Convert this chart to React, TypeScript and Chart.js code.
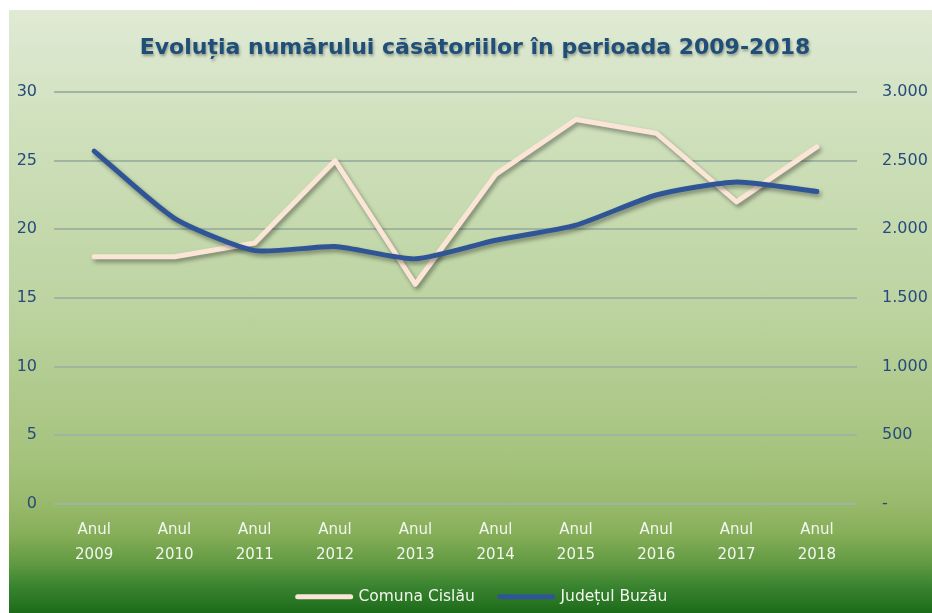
import React, { useEffect, useRef } from 'react';
import { Chart, registerables } from 'chart.js';

Chart.register(...registerables);

const TITLE = 'Evoluția numărului căsătoriilor în perioada 2009-2018';
const CATEGORIES = [
  ['Anul', '2009'], ['Anul', '2010'], ['Anul', '2011'], ['Anul', '2012'], ['Anul', '2013'],
  ['Anul', '2014'], ['Anul', '2015'], ['Anul', '2016'], ['Anul', '2017'], ['Anul', '2018'],
];
const CISLAU_LABEL = 'Comuna Cislău';
const BUZAU_LABEL = 'Județul Buzău';
const CISLAU = [18, 18, 19, 25, 16, 24, 28, 27, 22, 26];
const BUZAU = [2570, 2080, 1845, 1875, 1785, 1920, 2030, 2250, 2345, 2275];
const LEFT_MAX = 30;
const LEFT_STEP = 5;
const RIGHT_MAX = 3000;
const RIGHT_STEP = 500;

const FONT = "'DejaVu Sans', sans-serif";
const AXIS_COLOR = '#264b7c';
const LIGHT_TEXT = '#f3f6ef';
const GRID_COLOR = '#9fb5a2';
const PINK = '#fbe5d6';
const BLUE = '#2f5597';

const fmtThousands = (v: number) => {
  if (v === 0) return '-';
  const s = String(Math.round(v));
  return s.replace(/\B(?=(\d{3})+(?!\d))/g, '.');
};

const shadowPlugin = {
  id: 'lineShadow',
  beforeDatasetDraw(chart: any) {
    const ctx = chart.ctx;
    ctx.save();
    ctx.shadowColor = 'rgba(0,0,0,0.38)';
    ctx.shadowBlur = 4;
    ctx.shadowOffsetX = 2;
    ctx.shadowOffsetY = 3;
  },
  afterDatasetDraw(chart: any) {
    chart.ctx.restore();
  },
};

// shift the legend block slightly right, as in the original
const legendShiftPlugin = {
  id: 'legendShift',
  afterLayout(chart: any) {
    const lg = chart.legend;
    if (lg) {
      lg.left += 12;
      lg.right += 12;
    }
  },
};

const titlePlugin = {
  id: 'shadowTitle',
  afterDraw(chart: any) {
    const ctx = chart.ctx;
    ctx.save();
    ctx.font = `bold 22px ${FONT}`;
    ctx.fillStyle = '#1f4e79';
    ctx.textAlign = 'center';
    ctx.textBaseline = 'alphabetic';
    ctx.shadowColor = 'rgba(0,0,0,0.35)';
    ctx.shadowBlur = 3;
    ctx.shadowOffsetX = 1;
    ctx.shadowOffsetY = 2;
    ctx.fillText(TITLE, 466, 44);
    ctx.restore();
  },
};

export default function App() {
  const ref = useRef<HTMLCanvasElement>(null);

  useEffect(() => {
    const chart = new Chart(ref.current as HTMLCanvasElement, {
      type: 'line',
      data: {
        labels: CATEGORIES as any,
        datasets: [
          {
            label: CISLAU_LABEL,
            data: CISLAU,
            yAxisID: 'y',
            borderColor: PINK,
            backgroundColor: PINK,
            borderWidth: 5,
            pointRadius: 0,
            pointBorderWidth: 5,
            borderCapStyle: 'round',
            borderJoinStyle: 'round',
            tension: 0,
            order: 1,
          },
          {
            label: BUZAU_LABEL,
            data: BUZAU,
            yAxisID: 'y1',
            borderColor: BLUE,
            backgroundColor: BLUE,
            borderWidth: 5,
            pointRadius: 0,
            pointBorderWidth: 5,
            borderCapStyle: 'round',
            borderJoinStyle: 'round',
            tension: 0.2,
            order: 0,
          },
        ],
      },
      options: {
        responsive: false,
        animation: false,
        events: [],
        layout: { padding: { left: 0, right: 0, top: 82, bottom: 0 } },
        scales: {
          x: {
            offset: true,
            grid: { display: false, drawTicks: false },
            border: { display: false },
            ticks: {
              color: LIGHT_TEXT,
              font: { family: FONT, size: 15, lineHeight: 1.667 },
              padding: 14,
              maxRotation: 0,
              autoSkip: false,
            },
            afterFit: (s: any) => { s.height = 60; },
          },
          y: {
            position: 'left',
            min: 0,
            max: LEFT_MAX,
            ticks: {
              stepSize: LEFT_STEP,
              color: AXIS_COLOR,
              font: { family: FONT, size: 16 },
              padding: 17,
            },
            grid: { color: GRID_COLOR, lineWidth: 2, drawTicks: false },
            border: { display: false },
            afterFit: (s: any) => { s.width = 45; },
          },
          y1: {
            position: 'right',
            min: 0,
            max: RIGHT_MAX,
            ticks: {
              stepSize: RIGHT_STEP,
              color: AXIS_COLOR,
              font: { family: FONT, size: 16 },
              padding: 25,
              callback: (v: any) => fmtThousands(Number(v)),
            },
            grid: { display: false, drawTicks: false },
            border: { display: false },
            afterFit: (s: any) => { s.width = 75; },
          },
        },
        plugins: {
          title: { display: false },
          tooltip: { enabled: false },
          legend: {
            display: true,
            position: 'bottom',
            maxHeight: 49,
            labels: {
              usePointStyle: true,
              pointStyle: 'line',
              pointStyleWidth: 53,
              color: LIGHT_TEXT,
              font: { family: FONT, size: 15.5 },
              padding: 25,
              sort: (a: any, b: any) => a.datasetIndex - b.datasetIndex,
              generateLabels: (c: any) =>
                (Chart.defaults.plugins.legend.labels as any)
                  .generateLabels(c)
                  .map((l: any) => ({ ...l, lineWidth: 5, lineCap: 'round' })),
            },
          },
        },
      } as any,
      plugins: [shadowPlugin, legendShiftPlugin, titlePlugin],
    });
    return () => chart.destroy();
  }, []);

  return (
    <div
      style={{
        position: 'absolute',
        left: 9,
        top: 10,
        width: 923,
        height: 603,
        background:
          'linear-gradient(to bottom, #e0ead5 0%, #cfe0bc 20%, #bcd3a0 50%, #a5c27c 75%, #98b96b 82%, #86ae58 87%, #5f9941 92%, #3a8430 95.5%, #1c6b19 100%)',
      }}
    >
      <canvas ref={ref} width={923} height={603} style={{ display: 'block' }} />
    </div>
  );
}
